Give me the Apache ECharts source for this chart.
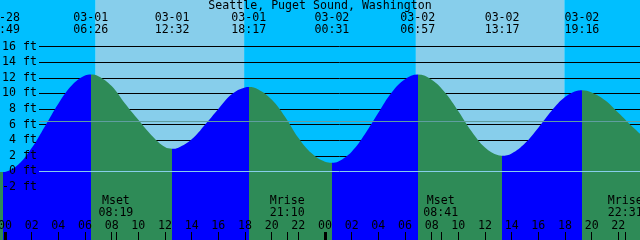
<!DOCTYPE html>
<html><head><meta charset="utf-8">
<script src="https://cdn.jsdelivr.net/npm/echarts@6/dist/echarts.min.js"></script>
<style>html,body{margin:0;padding:0;background:#fff}#c{width:640px;height:240px}</style>
</head><body><div id="c"></div>
<script>
// ---- data ----
const chartTitle = 'Seattle, Puget Sound, Washington';
// hours since 03-01 00:00
const tideTimes = [-0.375, -0.183, 0, 1, 2, 3, 4, 5, 6, 6.433, 7, 8, 9, 10, 11, 12, 12.533, 13, 14, 15, 16, 17, 18, 18.283,
  19, 20, 21, 22, 23, 24, 24.517, 25, 26, 27, 28, 29, 30, 30.95, 32, 33, 34, 35, 36, 37, 37.283,
  38, 39, 40, 41, 42, 43, 43.267, 44, 45, 46, 47, 47.625];
const tideHeights = [-0.08, -0.1, -0.08, 0.86, 2.97, 5.78, 8.67, 11.01, 12.27, 12.4, 12.2, 10.94, 8.7, 6.6, 4.6, 3.1, 2.9, 3.03, 4.1, 5.97, 8.0, 9.87, 10.75, 10.8,
  10.49, 9.2, 7.0, 4.3, 2.3, 1.22, 1.1, 1.26, 2.52, 4.77, 7.49, 10.1, 11.8, 12.4, 11.75, 10.1, 7.7, 5.1, 3.05, 2.05, 2.0,
  2.29, 3.59, 5.59, 7.76, 9.51, 10.36, 10.4, 10.1, 9.1, 7.5, 5.8, 4.8];
const extremaDates = ['02-28', '03-01', '03-01', '03-01', '03-02', '03-02', '03-02', '03-02'];
const extremaClock = ['23:49', '06:26', '12:32', '18:17', '00:31', '06:57', '13:17', '19:16'];
const extremaKind = ['low', 'high', 'low', 'high', 'low', 'high', 'low', 'high'];
const moonNames = ['Mset', 'Mrise', 'Mset', 'Mrise'];
const moonDates = ['03-01', '03-01', '03-02', '03-02'];
const moonClock = ['08:19', '21:10', '08:41', '22:31'];
const sunDates = ['03-01', '03-01', '03-02', '03-02'];
const sunClock = ['06:48', '17:56', '06:49', '17:57'];
const footTicks = [-2, 0, 2, 4, 6, 8, 10, 12, 14, 16];
const meanSeaLevel = 6.5;
const datumLevel = 0;
const hourTicks = [0, 2, 4, 6, 8, 10, 12, 14, 16, 18, 20, 22, 24, 26, 28, 30, 32, 34, 36, 38, 40, 42, 44, 46];
const midnightTicks = [0, 24];

// ---- helpers ----
const FONT = 'DejaVu Sans Mono';
const FS = 11.6;
function toHours(date, clock) {
  const [m, d] = date.split('-').map(Number);
  const day = m === 2 ? d - 29 : d - 1;
  const [hh, mm] = clock.split(':').map(Number);
  return day * 24 + hh + mm / 60;
}
const pad2 = n => (n < 10 ? '0' : '') + n;
const extremaTimes = extremaDates.map((d, i) => toHours(d, extremaClock[i]));
const moonTimes = moonDates.map((d, i) => toHours(d, moonClock[i]));
const sunTimes = sunDates.map((d, i) => toHours(d, sunClock[i]));

const X_MIN = -0.375, X_MAX = 47.625;
const Y_MIN = -8.81, Y_MAX = 21.96;

const NIGHT = '#00bfff', DAY = '#87ceeb', FLOOD = '#0000ff', EBB = '#2e8b57';

// sky intervals [start, end, isDay]
const skyBounds = [X_MIN].concat(sunTimes, [X_MAX]);
const skyData = [];
for (let i = 0; i < skyBounds.length - 1; i++) skyData.push([skyBounds[i], skyBounds[i + 1], i % 2]);

// rising / falling pieces
const pieces = [];
const bounds = [-Infinity].concat(extremaTimes, [Infinity]);
for (let i = 0; i < bounds.length - 1; i++) {
  const endKind = i < extremaKind.length ? extremaKind[i] : (extremaKind[extremaKind.length - 1] === 'high' ? 'low' : 'high');
  const p = { color: endKind === 'high' ? FLOOD : EBB };
  if (isFinite(bounds[i])) p.gte = bounds[i];
  if (isFinite(bounds[i + 1])) p.lt = bounds[i + 1];
  pieces.push(p);
}

const lblFont = { fontFamily: FONT, fontSize: FS, color: '#000' };
const baseX = {
  type: 'value', min: X_MIN, max: X_MAX, gridIndex: 0, z: 10,
  axisLine: { show: false, onZero: false }, splitLine: { show: false }
};

function hLine(color) {
  return function (params, api) {
    const cs = params.coordSys;
    const y = Math.round(api.coord([X_MIN, api.value(0)])[1]) + 0.5;
    return { type: 'line', shape: { x1: cs.x, y1: y, x2: cs.x + cs.width, y2: y },
      style: { stroke: typeof color === 'function' ? color(params.dataIndex) : color, lineWidth: 1 } };
  };
}

const chart = echarts.init(document.getElementById('c'), null, { renderer: 'canvas' });
chart.setOption({
  animation: false,
  backgroundColor: '#fff',
  title: {
    text: chartTitle, left: 'center', top: 0, padding: 0, z: 12,
    textStyle: { fontFamily: FONT, fontSize: FS, fontWeight: 'normal', color: '#000', lineHeight: 12 }
  },
  grid: [
    { left: 0, right: 0, top: 0, bottom: 0, containLabel: false, outerBoundsMode: 'none' },
    { left: 39, right: 0, top: 0, bottom: 0, containLabel: false, outerBoundsMode: 'none' }
  ],
  xAxis: [
    Object.assign({}, baseX, {
      position: 'bottom',
      axisTick: { show: true, inside: true, length: 8, customValues: hourTicks.concat(moonTimes), lineStyle: { color: '#000', width: 1 } },
      axisLabel: Object.assign({ show: true, inside: true, margin: 8.5, lineHeight: 12, customValues: hourTicks,
        formatter: v => pad2(((Math.round(v) % 24) + 24) % 24) }, lblFont)
    }),
    Object.assign({}, baseX, {
      position: 'bottom',
      axisTick: { show: true, inside: true, length: 8, customValues: midnightTicks, lineStyle: { color: '#000', width: 3 } },
      axisLabel: { show: false }
    }),
    Object.assign({}, baseX, {
      position: 'bottom',
      axisTick: { show: false },
      axisLabel: Object.assign({ show: true, inside: true, margin: 21, lineHeight: 12, customValues: moonTimes,
        formatter: v => { const i = moonTimes.findIndex(t => Math.abs(t - v) < 1e-6); return moonNames[i] + '\n' + moonClock[i]; } }, lblFont)
    }),
    Object.assign({}, baseX, {
      position: 'top',
      axisTick: { show: false },
      axisLabel: Object.assign({ show: true, inside: true, margin: 11.5, lineHeight: 12, customValues: extremaTimes,
        formatter: v => { const i = extremaTimes.findIndex(t => Math.abs(t - v) < 1e-6); return extremaDates[i] + '\n' + extremaClock[i]; } }, lblFont)
    }),
    { type: 'value', gridIndex: 1, min: X_MIN, max: X_MAX, show: false }
  ],
  yAxis: [
    { type: 'value', gridIndex: 0, min: Y_MIN, max: Y_MAX, show: false },
    {
      type: 'value', gridIndex: 1, min: Y_MIN, max: Y_MAX, position: 'left', z: 10,
      axisLine: { show: false, onZero: false }, axisTick: { show: false }, splitLine: { show: false },
      axisLabel: Object.assign({ show: true, margin: 2, customValues: footTicks, formatter: '{value} ft' }, lblFont)
    }
  ],
  visualMap: {
    type: 'piecewise', show: false, dimension: 0, seriesIndex: 2, pieces: pieces
  },
  series: [
    {
      type: 'custom', xAxisIndex: 0, yAxisIndex: 0, z: 1, silent: true, data: skyData,
      renderItem: function (params, api) {
        const p0 = api.coord([api.value(0), Y_MAX]);
        const p1 = api.coord([api.value(1), Y_MIN]);
        return { type: 'rect', shape: { x: p0[0], y: p0[1], width: p1[0] - p0[0], height: p1[1] - p0[1] },
          style: { fill: api.value(2) ? DAY : NIGHT } };
      }
    },
    {
      type: 'custom', xAxisIndex: 4, yAxisIndex: 1, z: 2, silent: true, data: footTicks,
      renderItem: hLine('#000')
    },
    {
      type: 'line', xAxisIndex: 0, yAxisIndex: 0, z: 3, silent: true,
      data: tideTimes.map((t, i) => [t, tideHeights[i]]),
      smooth: 0.4, showSymbol: false, symbol: 'none',
      lineStyle: { width: 0 },
      areaStyle: { opacity: 1, origin: 'start' }
    },
    {
      type: 'custom', xAxisIndex: 4, yAxisIndex: 1, z: 4, silent: true, data: [meanSeaLevel, datumLevel],
      renderItem: hLine(i => (i === 0 ? '#5f9ea0' : '#87ceeb'))
    }
  ]
});
</script>
</body></html>
